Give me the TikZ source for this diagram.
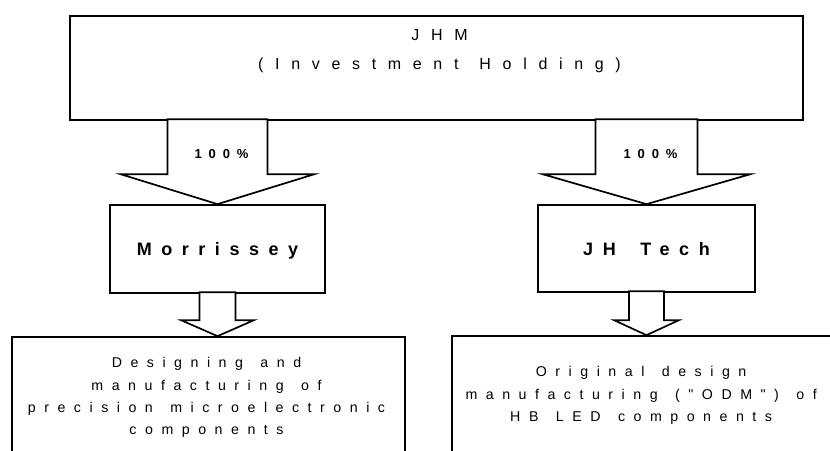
\documentclass[tikz,border=0pt]{standalone}
\usepackage{fontspec}
\setmainfont{Liberation Sans}
\newfontfamily\topfont{Liberation Sans}[LetterSpace=73,WordSpace=1.3]
\newfontfamily\midfont{Liberation Sans}[LetterSpace=53,WordSpace=1.7]
\newfontfamily\lowfont{Liberation Sans}[LetterSpace=60,WordSpace=1.4,Ligatures=TeXOff]
\usetikzlibrary{calc}
\tikzset{
  box/.style={draw, line width=1.7pt, fill=white, inner sep=0pt},
  barrow/.style={draw, line width=1.7pt, fill=white, line join=miter},
  toptxt/.style={font=\topfont\fontsize{16}{29}\selectfont, align=center, inner sep=0pt, anchor=north},
  midtxt/.style={font=\midfont\bfseries\fontsize{18}{22}\selectfont, text depth=0pt},
  pcttxt/.style={font=\midfont\bfseries\fontsize{13}{16}\selectfont, inner sep=0pt},
  lowtxt/.style={font=\lowfont\fontsize{14.2}{22.4}\selectfont, align=center, inner sep=0pt, anchor=north}
}
\begin{document}
\begin{tikzpicture}[x=1pt,y=-1pt]
\clip (0,0) rectangle (830,450);
\fill[white] (0,0) rectangle (830,450);
% boxes
\node[box, minimum width=733pt, minimum height=104pt] (jhm) at (436.5,68) {};
\node[box, midtxt, minimum width=215pt, minimum height=88pt] (morr) at (217.5,249) {Morrissey};
\node[box, midtxt, minimum width=217pt, minimum height=87pt] (jht) at (646.5,248.5) {JH Tech};
\node[box, minimum width=393pt, minimum height=143pt] (lbox) at (208.5,408.5) {};
\node[box, minimum width=428pt, minimum height=144pt] (rbox) at (666,408) {};
% texts
\node[toptxt] (jhmtxt) at ($(jhm.north)+(3,14)$) {JHM\\(Investment Holding)};
\node[lowtxt] (ltxt) at ($(lbox.north)+(-2,21)$) {Designing and\\manufacturing of\\precision microelectronic\\components};
\node[lowtxt] (rtxt) at ($(rbox.north west)+(190,31)$) {Original design\\manufacturing ("ODM") of\\HB LED components};
% big arrows
\draw[barrow] (morr.north) -- ++(-97,-30) -- ++(47,0) -- ++(0,-55) -- ++(100,0) -- ++(0,55) -- ++(47,0) -- cycle;
\draw[barrow] (jht.north) -- ++(-104,-30) -- ++(53,0) -- ++(0,-55) -- ++(102,0) -- ++(0,55) -- ++(53,0) -- cycle;
\node[pcttxt] (p1) at ($(jhm.south -| morr.north)+(4,33)$) {100\%};
\node[pcttxt] (p2) at ($(jhm.south -| jht.north)+(4,33)$) {100\%};
% small arrows
\draw[barrow] (morr.south |- lbox.north) -- ++(-36.5,-16) -- ++(18.5,0) -- ++(0,-28) -- ++(36,0) -- ++(0,28) -- ++(18.5,0) -- cycle;
\draw[barrow] (jht.south |- rbox.north) -- ++(-32.5,-15) -- ++(15,0) -- ++(0,-29) -- ++(35,0) -- ++(0,29) -- ++(15,0) -- cycle;
\end{tikzpicture}
\end{document}
